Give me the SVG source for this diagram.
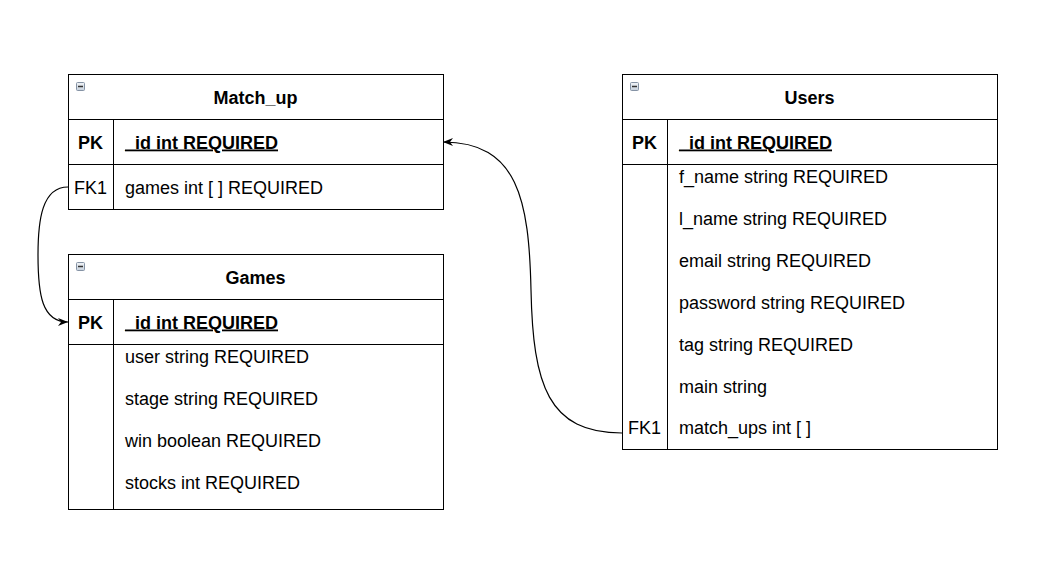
<svg xmlns="http://www.w3.org/2000/svg" width="1050" height="562" viewBox="0 0 1050 562">
<defs>
<marker id="arr" viewBox="0 0 10 8" refX="10" refY="4" markerWidth="10" markerHeight="8" orient="auto" markerUnits="userSpaceOnUse">
<path d="M0,0 L10,4 L0,8 L3,4 Z" fill="#000"/>
</marker>
<linearGradient id="ig" x1="0" y1="0" x2="0" y2="1">
<stop offset="0" stop-color="#f2f5f8"/>
<stop offset="1" stop-color="#c6d0dc"/>
</linearGradient>
<g id="icon">
<rect x="0.5" y="0.5" width="8" height="8" rx="1" fill="url(#ig)" stroke="#8593a5"/>
<line x1="2" y1="4.5" x2="7" y2="4.5" stroke="#333" stroke-width="1.5"/>
</g>
</defs>
<style>
.box{fill:#fff;stroke:#000;stroke-width:1}
.ln{stroke:#000;stroke-width:1;fill:none}
text{font-family:"Liberation Sans",Arial,sans-serif;font-size:18px;fill:#000}
.b{font-weight:bold}
.c{text-anchor:middle}
.u{text-decoration:underline}
.edge{fill:none;stroke:#000;stroke-width:1.2}
</style>
<rect width="1050" height="562" fill="#fff"/>

<g id="match_up">
<rect class="box" x="68.5" y="74.5" width="375" height="135"/>
<line class="ln" x1="68.5" y1="119.5" x2="443.5" y2="119.5"/>
<line class="ln" x1="68.5" y1="164.5" x2="443.5" y2="164.5"/>
<line class="ln" x1="113.5" y1="119.5" x2="113.5" y2="209.5"/>
<use href="#icon" x="76" y="82"/>
<text class="b c" x="255.5" y="103.5">Match_up</text>
<text class="b c" x="90.5" y="148.5">PK</text>
<text class="b u" x="125" y="148.5">_id int REQUIRED</text>
<text class="c" x="90.5" y="193.5">FK1</text>
<text x="125" y="193.5">games int [ ] REQUIRED</text>
</g>

<g id="games">
<rect class="box" x="68.5" y="254.5" width="375" height="255"/>
<line class="ln" x1="68.5" y1="299.5" x2="443.5" y2="299.5"/>
<line class="ln" x1="68.5" y1="344.5" x2="443.5" y2="344.5"/>
<line class="ln" x1="113.5" y1="299.5" x2="113.5" y2="509.5"/>
<use href="#icon" x="76" y="262"/>
<text class="b c" x="255.5" y="283.5">Games</text>
<text class="b c" x="90.5" y="328.5">PK</text>
<text class="b u" x="125" y="328.5">_id int REQUIRED</text>
<text x="125" y="363">user string REQUIRED</text>
<text x="125" y="405">stage string REQUIRED</text>
<text x="125" y="447">win boolean REQUIRED</text>
<text x="125" y="489">stocks int REQUIRED</text>
</g>

<g id="users">
<rect class="box" x="622.5" y="74.5" width="375" height="375"/>
<line class="ln" x1="622.5" y1="119.5" x2="997.5" y2="119.5"/>
<line class="ln" x1="622.5" y1="164.5" x2="997.5" y2="164.5"/>
<line class="ln" x1="667.5" y1="119.5" x2="667.5" y2="449.5"/>
<use href="#icon" x="630" y="82"/>
<text class="b c" x="809.5" y="103.5">Users</text>
<text class="b c" x="644.5" y="148.5">PK</text>
<text class="b u" x="679" y="148.5">_id int REQUIRED</text>
<text x="679" y="183">f_name string REQUIRED</text>
<text x="679" y="225">l_name string REQUIRED</text>
<text x="679" y="267">email string REQUIRED</text>
<text x="679" y="309">password string REQUIRED</text>
<text x="679" y="351">tag string REQUIRED</text>
<text x="679" y="393">main string</text>
<text class="c" x="644.5" y="434">FK1</text>
<text x="679" y="434">match_ups int [ ]</text>
</g>

<g id="connectors">
<path class="edge" d="M68,187 C42,187 38,220 38,255 C38,295 42,322 68,322" marker-end="url(#arr)"/>
<path class="edge" d="M622,433 C548,433 533,385 531,290 C529,200 518,142 443,142" marker-end="url(#arr)"/>
</g>
</svg>
